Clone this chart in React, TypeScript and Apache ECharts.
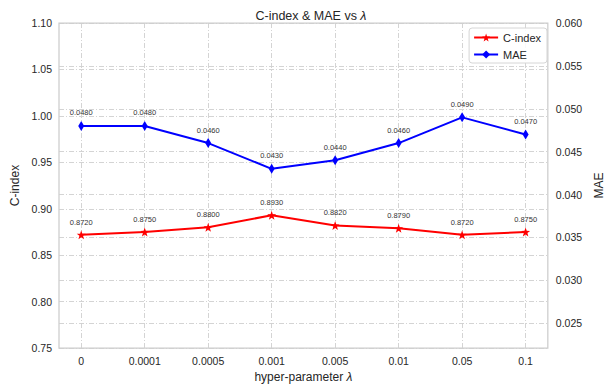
import React, { useEffect, useRef } from "react";
import * as echarts from "echarts";

const categories = ["0", "0.0001", "0.0005", "0.001", "0.005", "0.01", "0.05", "0.1"];
const cIndex = [0.872, 0.875, 0.88, 0.893, 0.882, 0.879, 0.872, 0.875];
const mae = [0.048, 0.048, 0.046, 0.043, 0.044, 0.046, 0.049, 0.047];
const rightTicks = [0.025, 0.03, 0.035, 0.04, 0.045, 0.05, 0.055, 0.06];

const FONT = "Liberation Sans, Arial, sans-serif";
const STAR =
  "path://M0,-10 L2.35,-3.24 L9.51,-3.09 L3.8,1.24 L5.88,8.09 L0,4 L-5.88,8.09 L-3.8,1.24 L-9.51,-3.09 L-2.35,-3.24 Z";
const GRIDLINE = { color: "#cfcfcf", width: 0.9, type: [5, 2, 1, 2] as number[] };

export default function App() {
  const ref = useRef<HTMLDivElement>(null);
  useEffect(() => {
    if (!ref.current) return;
    const chart = echarts.init(ref.current, undefined, { renderer: "svg" });
    const xIdx = categories.map((_, i) => i);
    chart.setOption({
      animation: false,
      backgroundColor: "#ffffff",
      textStyle: { fontFamily: FONT },
      title: {
        text: "{a|C-index & MAE vs }{b|λ}",
        left: 306,
        textAlign: "center",
        top: 4,
        textStyle: {
          fontWeight: "normal",
          rich: {
            a: { fontSize: 12.5, color: "#262626", fontFamily: FONT, fontWeight: "normal" },
            b: { fontSize: 12.5, color: "#262626", fontFamily: FONT, fontStyle: "italic", fontWeight: "normal" },
          },
        },
      },
      legend: {
        right: 66,
        top: 28,
        orient: "vertical",
        backgroundColor: "rgba(255,255,255,0.85)",
        borderColor: "#d6d6d6",
        borderWidth: 1,
        borderRadius: 3,
        padding: [4, 6, 3, 4],
        itemGap: 6,
        itemWidth: 24,
        itemHeight: 10,
        textStyle: { fontSize: 11, color: "#262626", fontFamily: FONT },
        data: ["C-index", "MAE"],
      },
      grid: {
        left: 59,
        right: 61,
        top: 23,
        bottom: 35,
        show: true,
        borderColor: "#cccccc",
        borderWidth: 1.25,
        backgroundColor: "#ffffff",
      },
      xAxis: {
        type: "value",
        min: -0.35,
        max: 7.35,
        name: "{a|hyper-parameter }{b|λ}",
        nameLocation: "middle",
        nameGap: 22,
        nameTextStyle: {
          rich: {
            a: { fontSize: 12, color: "#262626", fontFamily: FONT },
            b: { fontSize: 12, color: "#262626", fontFamily: FONT, fontStyle: "italic" },
          },
        },
        axisLine: { show: false },
        axisTick: { show: false, customValues: xIdx },
        axisLabel: {
          customValues: xIdx,
          formatter: (v: number) => categories[Math.round(v)] ?? "",
          fontSize: 10.5,
          color: "#262626",
          margin: 7,
        },
        splitLine: { show: true, lineStyle: GRIDLINE },
      },
      yAxis: [
        {
          type: "value",
          min: 0.75,
          max: 1.1,
          interval: 0.05,
          name: "C-index",
          nameLocation: "middle",
          nameGap: 34,
          nameTextStyle: { fontSize: 12, color: "#262626" },
          axisLine: { show: false },
          axisTick: { show: false },
          axisLabel: {
            formatter: (v: number) => v.toFixed(2),
            fontSize: 10.5,
            color: "#262626",
            margin: 7,
          },
          splitLine: { show: true, lineStyle: GRIDLINE },
        },
        {
          type: "value",
          position: "right",
          min: 0.0221,
          max: 0.06,
          name: "MAE",
          nameLocation: "middle",
          nameGap: 40,
          nameRotate: 90,
          nameTextStyle: { fontSize: 12, color: "#262626" },
          axisLine: { show: false },
          axisTick: { show: false, customValues: rightTicks },
          axisLabel: {
            customValues: rightTicks,
            formatter: (v: number) => v.toFixed(3),
            fontSize: 10.5,
            color: "#262626",
            margin: 8,
          },
          splitLine: { show: true, lineStyle: GRIDLINE },
        },
      ],
      series: [
        {
          name: "C-index",
          type: "line",
          yAxisIndex: 0,
          data: cIndex.map((v, i) => [i, v]),
          color: "#ff0000",
          lineStyle: { width: 2, color: "#ff0000" },
          symbol: STAR,
          symbolSize: 9,
          itemStyle: { color: "#ff0000" },
          label: {
            show: true,
            position: "top",
            distance: 4,
            fontSize: 7.5,
            color: "#333333",
            formatter: (p: any) => Number(p.value[1]).toFixed(4),
          },
          z: 3,
        },
        {
          name: "MAE",
          type: "line",
          yAxisIndex: 1,
          data: mae.map((v, i) => [i, v]),
          color: "#0000ff",
          lineStyle: { width: 2, color: "#0000ff" },
          symbol: "diamond",
          symbolSize: [6, 10],
          itemStyle: { color: "#0000ff" },
          label: {
            show: true,
            position: "top",
            distance: 4,
            fontSize: 7.5,
            color: "#333333",
            formatter: (p: any) => Number(p.value[1]).toFixed(4),
          },
          z: 3,
        },
      ],
    });
    return () => chart.dispose();
  }, []);
  return <div ref={ref} style={{ width: 613, height: 388, position: "absolute", left: 0, top: 0 }} />;
}
